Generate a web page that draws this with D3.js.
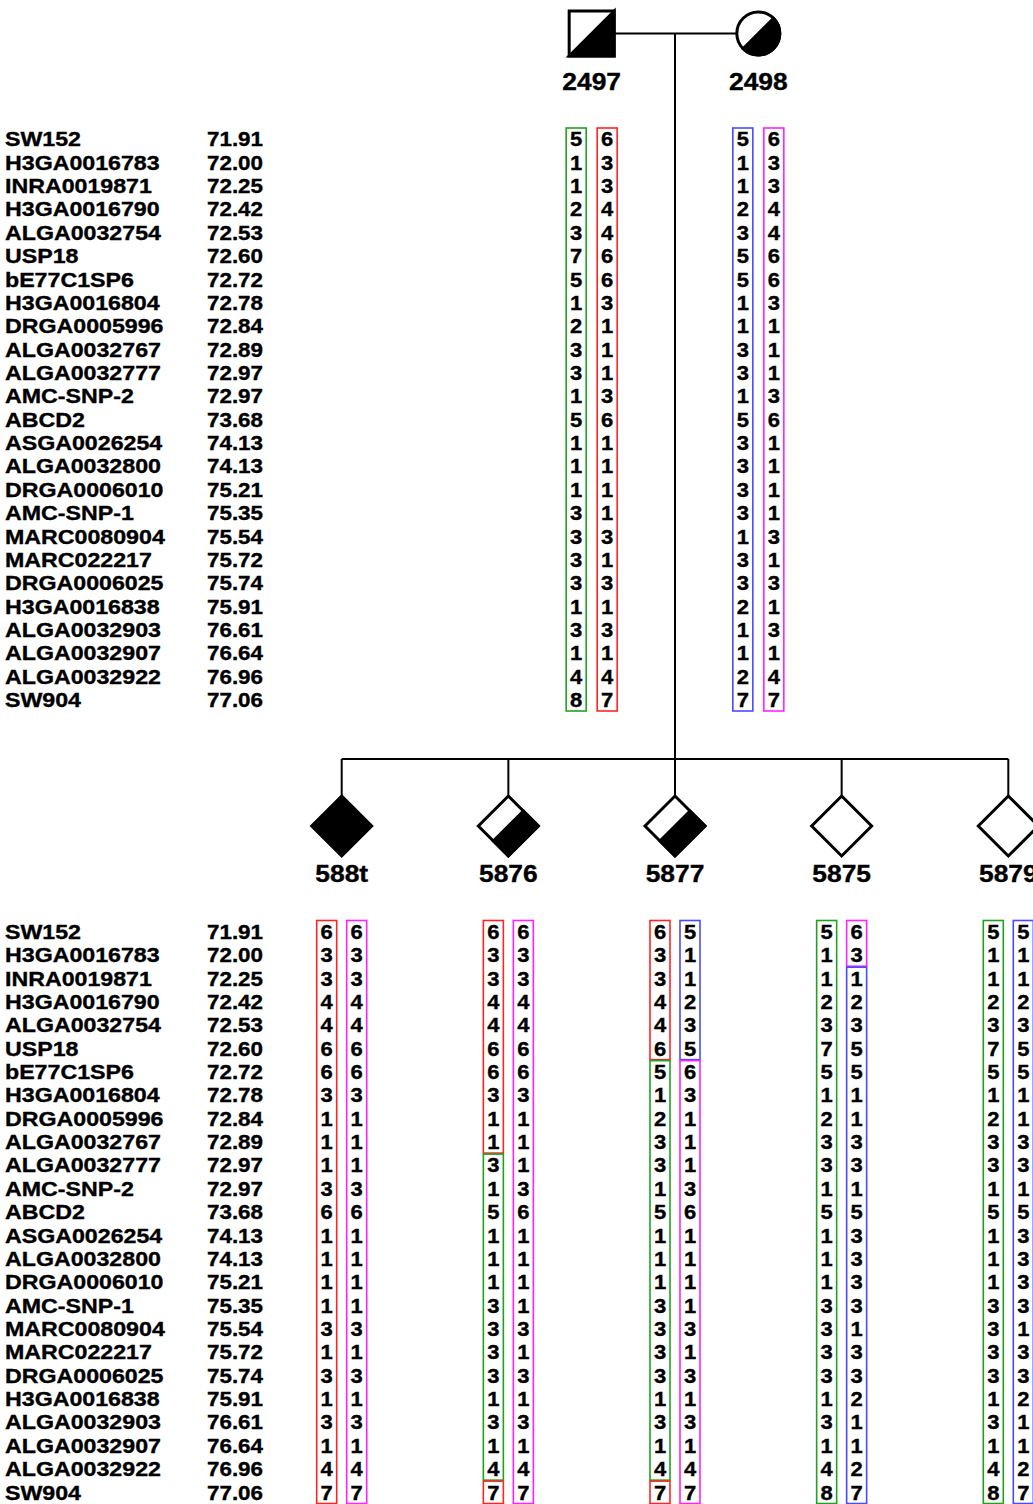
<!DOCTYPE html>
<html>
<head>
<meta charset="utf-8">
<script src="https://cdn.jsdelivr.net/npm/d3@7"></script>
<style>
body { margin: 0; background: #fff; }
svg { display: block; }
text { font-family: "Liberation Sans", Arial, sans-serif; font-weight: bold; fill: #000; stroke: #000; stroke-width: 0.35px; }
</style>
</head>
<body>
<div id="chart"></div>
<script>
// marker names and positions (Mb)
var markers = ["SW152", "H3GA0016783", "INRA0019871", "H3GA0016790", "ALGA0032754", "USP18",
    "bE77C1SP6", "H3GA0016804", "DRGA0005996", "ALGA0032767", "ALGA0032777", "AMC-SNP-2",
    "ABCD2", "ASGA0026254", "ALGA0032800", "DRGA0006010", "AMC-SNP-1", "MARC0080904",
    "MARC022217", "DRGA0006025", "H3GA0016838", "ALGA0032903", "ALGA0032907", "ALGA0032922", "SW904"];
var positions = ["71.91", "72.00", "72.25", "72.42", "72.53", "72.60", "72.72", "72.78", "72.84",
    "72.89", "72.97", "72.97", "73.68", "74.13", "74.13", "75.21", "75.35", "75.54", "75.72",
    "75.74", "75.91", "76.61", "76.64", "76.96", "77.06"];

// parents: id, sex, alleles of the two haplotypes, colour code of each haplotype
var parentIds = ["2497", "2498"];
var parentSex = ["m", "f"];
var hap2497a = [5,1,1,2,3,7,5,1,2,3,3,1,5,1,1,1,3,3,3,3,1,3,1,4,8];
var hap2497b = [6,3,3,4,4,6,6,3,1,1,1,3,6,1,1,1,1,3,1,3,1,3,1,4,7];
var hap2498a = [5,1,1,2,3,5,5,1,1,3,3,1,5,3,3,3,3,1,3,3,2,1,1,2,7];
var hap2498b = [6,3,3,4,4,6,6,3,1,1,1,3,6,1,1,1,1,3,1,3,1,3,1,4,7];
var parentHaps = [[hap2497a, hap2497b], [hap2498a, hap2498b]];
var parentOrigins = [["ggggggggggggggggggggggggg", "rrrrrrrrrrrrrrrrrrrrrrrrr"],
                     ["bbbbbbbbbbbbbbbbbbbbbbbbb", "mmmmmmmmmmmmmmmmmmmmmmmmm"]];

// offspring: id, affection status (full / half / none), alleles and origin per marker
var childIds = ["588t", "5876", "5877", "5875", "5879"];
var childStatus = ["full", "half", "half", "none", "none"];
var childHaps = [
    [[6,3,3,4,4,6,6,3,1,1,1,3,6,1,1,1,1,3,1,3,1,3,1,4,7], [6,3,3,4,4,6,6,3,1,1,1,3,6,1,1,1,1,3,1,3,1,3,1,4,7]],
    [[6,3,3,4,4,6,6,3,1,1,3,1,5,1,1,1,3,3,3,3,1,3,1,4,7], [6,3,3,4,4,6,6,3,1,1,1,3,6,1,1,1,1,3,1,3,1,3,1,4,7]],
    [[6,3,3,4,4,6,5,1,2,3,3,1,5,1,1,1,3,3,3,3,1,3,1,4,7], [5,1,1,2,3,5,6,3,1,1,1,3,6,1,1,1,1,3,1,3,1,3,1,4,7]],
    [[5,1,1,2,3,7,5,1,2,3,3,1,5,1,1,1,3,3,3,3,1,3,1,4,8], [6,3,1,2,3,5,5,1,1,3,3,1,5,3,3,3,3,1,3,3,2,1,1,2,7]],
    [[5,1,1,2,3,7,5,1,2,3,3,1,5,1,1,1,3,3,3,3,1,3,1,4,8], [5,1,1,2,3,5,5,1,1,3,3,1,5,3,3,3,3,1,3,3,2,1,1,2,7]]
];
var childOrigins = [
    ["rrrrrrrrrrrrrrrrrrrrrrrrr", "mmmmmmmmmmmmmmmmmmmmmmmmm"],
    ["rrrrrrrrrrggggggggggggggr", "mmmmmmmmmmmmmmmmmmmmmmmmm"],
    ["rrrrrrggggggggggggggggggr", "bbbbbbmmmmmmmmmmmmmmmmmmm"],
    ["ggggggggggggggggggggggggg", "mmbbbbbbbbbbbbbbbbbbbbbbb"],
    ["ggggggggggggggggggggggggg", "bbbbbbbbbbbbbbbbbbbbbbbbb"]
];

var hapColor = { g: "#1fa31f", r: "#ff2424", b: "#4a4aff", m: "#ff22ff" };

var W = 1033, H = 1504;
var fontSize = 20, stretch = 1.16;

var svg = d3.select("#chart").append("svg")
    .attr("width", W).attr("height", H);

// horizontal slots: children at 0..4, parents in between
var slot = d3.scaleLinear().domain([0, 4]).range([341.7, 1008.3]);
var rowsTop = d3.scaleBand().domain(d3.range(markers.length)).range([127.5, 711.5]);
var rowsBottom = d3.scaleBand().domain(d3.range(markers.length)).range([920, 1504]);

function stretchedText(g, x, y, str, anchor, size, sx) {
    return g.append("text")
        .attr("transform", "translate(" + x + "," + y + ") scale(" + (sx || stretch) + ",1)")
        .attr("text-anchor", anchor)
        .style("font-size", (size || fontSize) + "px")
        .text(str);
}

// marker table
function markerTable(rows) {
    var g = svg.append("g");
    markers.forEach(function(m, i) {
        var y = rows(i) + rows.bandwidth() / 2 + 7.2;
        stretchedText(g, 5, y, m, "start");
        stretchedText(g, 207, y, positions[i], "start", fontSize, 1.12);
    });
}
markerTable(rowsTop);
markerTable(rowsBottom);

// haplotype column: boxes for consecutive runs of the same origin
function haplotype(cx, rows, alleles, origin) {
    var g = svg.append("g");
    var runs = [], start = 0;
    for (var i = 1; i <= origin.length; i++) {
        if (i == origin.length || origin[i] != origin[start]) {
            runs.push({c: origin[start], s: start, e: i - 1});
            start = i;
        }
    }
    g.selectAll("rect").data(runs).enter().append("rect")
        .attr("x", cx - 10)
        .attr("width", 20)
        .attr("y", function(d) { return rows(d.s) + 0.5; })
        .attr("height", function(d) { return rows(d.e) + rows.bandwidth() - rows(d.s) - 1; })
        .attr("fill", "none")
        .attr("stroke", function(d) { return hapColor[d.c]; })
        .attr("stroke-width", 1.6);
    alleles.forEach(function(a, i) {
        stretchedText(g, cx, rows(i) + rows.bandwidth() / 2 + 7.2, a, "middle", fontSize, 1.1);
    });
}

// pedigree lines
var symY = 33.5, sibY = 759, childY = 826;
var lines = svg.append("g").attr("stroke", "#000").attr("stroke-width", 2).attr("fill", "none");
var px = [slot(1.5), slot(2.5)];
var mid = (px[0] + px[1]) / 2;
lines.append("line").attr("x1", px[0]).attr("x2", px[1]).attr("y1", symY).attr("y2", symY);
lines.append("line").attr("x1", mid).attr("x2", mid).attr("y1", symY).attr("y2", sibY);
lines.append("line").attr("x1", slot(0)).attr("x2", slot(4)).attr("y1", sibY).attr("y2", sibY);
childIds.forEach(function(c, i) {
    lines.append("line").attr("x1", slot(i)).attr("x2", slot(i)).attr("y1", sibY).attr("y2", childY - 31);
});

// parent symbols
var sym = svg.append("g");
parentIds.forEach(function(id, i) {
    var x = px[i], y = symY;
    if (parentSex[i] == "m") {
        var s = 22.5;
        sym.append("rect").attr("x", x - s).attr("y", y - s).attr("width", 2 * s).attr("height", 2 * s)
            .attr("fill", "#fff").attr("stroke", "#000").attr("stroke-width", 3);
        sym.append("path").attr("d", "M" + (x - s) + "," + (y + s) + "L" + (x + s) + "," + (y - s) + "L" + (x + s) + "," + (y + s) + "Z")
            .attr("fill", "#000").attr("stroke", "#000").attr("stroke-width", 3).attr("stroke-linejoin", "miter");
    } else {
        var r = 21.5, k = r / Math.SQRT2;
        sym.append("circle").attr("cx", x).attr("cy", y).attr("r", r)
            .attr("fill", "#fff").attr("stroke", "#000").attr("stroke-width", 3);
        sym.append("path").attr("d", "M" + (x + k) + "," + (y - k) + "A" + r + "," + r + " 0 0 1 " + (x - k) + "," + (y + k) + "Z")
            .attr("fill", "#000").attr("stroke", "#000").attr("stroke-width", 3);
    }
    stretchedText(sym, x, 90, id, "middle", 24, 1.1);
    haplotype(x - 15.5, rowsTop, parentHaps[i][0], parentOrigins[i][0]);
    haplotype(x + 15.5, rowsTop, parentHaps[i][1], parentOrigins[i][1]);
});

// offspring symbols (sex unknown: diamonds)
childIds.forEach(function(id, i) {
    var x = slot(i), y = childY, h = 30;
    var pts = [[x, y - h], [x + h, y], [x, y + h], [x - h, y]];
    sym.append("polygon").attr("points", pts.join(" "))
        .attr("fill", childStatus[i] == "full" ? "#000" : "#fff")
        .attr("stroke", "#000").attr("stroke-width", 3).attr("stroke-linejoin", "miter");
    if (childStatus[i] == "half") {
        var half = [[x + h / 2, y - h / 2], [x + h, y], [x, y + h], [x - h / 2, y + h / 2]];
        sym.append("polygon").attr("points", half.join(" "))
            .attr("fill", "#000").attr("stroke", "#000").attr("stroke-width", 3).attr("stroke-linejoin", "miter");
    }
    stretchedText(sym, x, 882, id, "middle", 24, 1.1);
    haplotype(x - 15, rowsBottom, childHaps[i][0], childOrigins[i][0]);
    haplotype(x + 15, rowsBottom, childHaps[i][1], childOrigins[i][1]);
});
</script>
</body>
</html>
